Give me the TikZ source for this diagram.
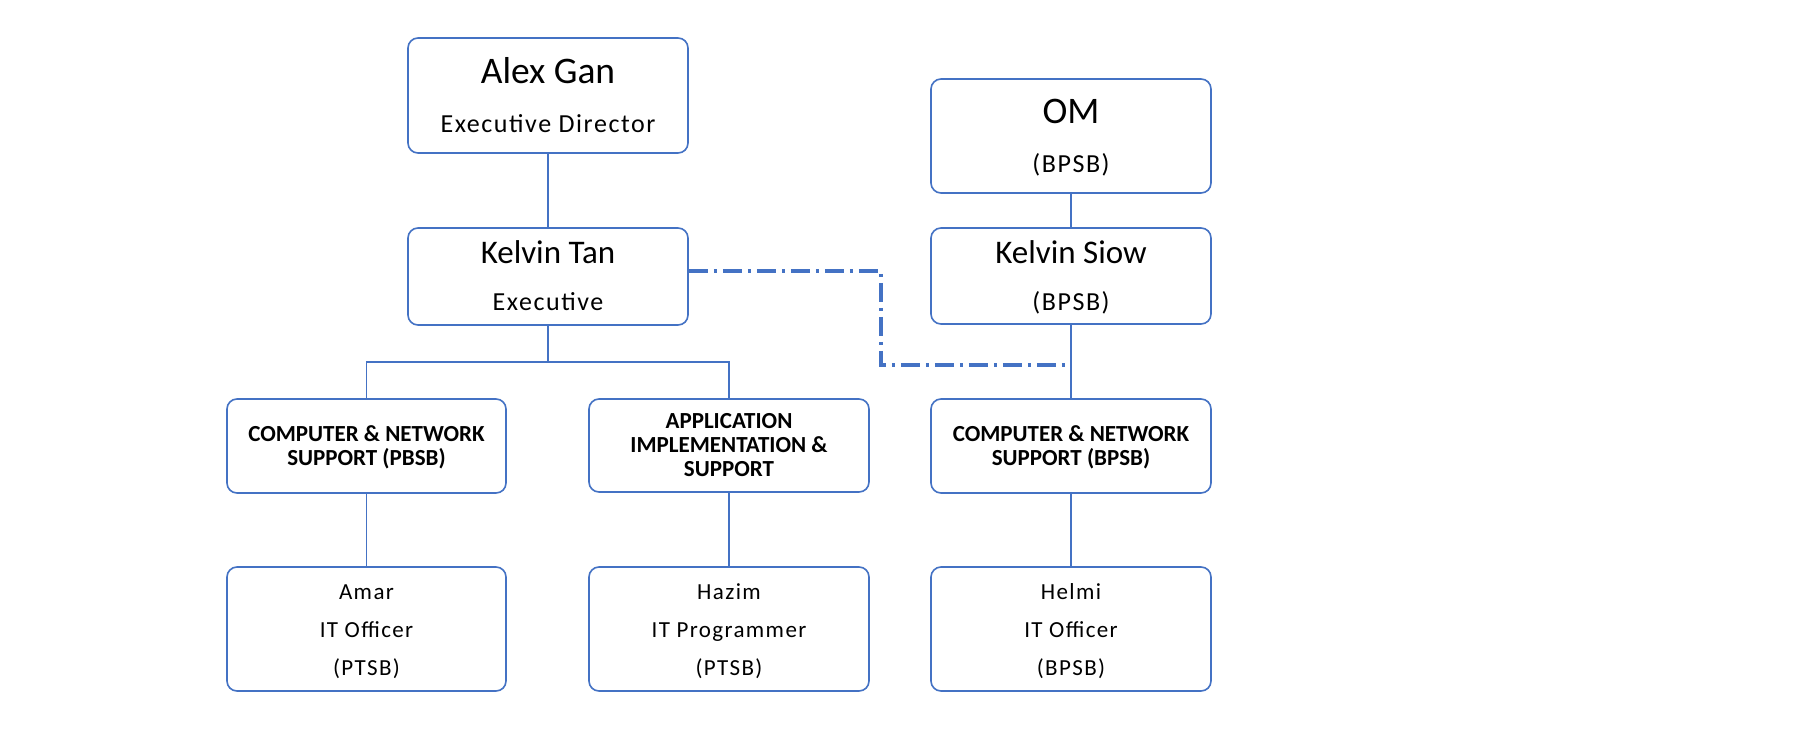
\documentclass[tikz,border=0pt]{standalone}
\usepackage{fontspec}
\setmainfont{Carlito}
\newfontfamily\regf[LetterSpace=6]{Carlito}
\begin{document}
\begin{tikzpicture}[x=1pt,y=-1pt,
  box/.style={draw=boxblue, line width=1.6pt, rounded corners=10pt, fill=white, inner sep=0pt, minimum width=#1},
  box/.default=280pt,
  big/.style={inner sep=0pt, anchor=base, font=\fontsize{37.5}{40}\selectfont},
  mid/.style={inner sep=0pt, anchor=base, font=\fontsize{33}{35}\selectfont},
  regtop/.style={inner sep=0pt, anchor=base, font=\regf\fontsize{26}{28}\selectfont},
  reg/.style={inner sep=0pt, anchor=base, font=\regf\fontsize{23}{25}\selectfont},
  bld/.style={inner sep=0pt, anchor=base, align=center, font=\bfseries\fontsize{23}{24}\selectfont},
  link/.style={draw=boxblue, line width=1.5pt},
  dotlink/.style={draw=boxblue, line width=3.2pt, dash pattern=on 19pt off 6pt on 3pt off 6pt}]
\definecolor{boxblue}{HTML}{4472C4}
\useasboundingbox (0,0) rectangle (1794,731);
\fill[white] (0,0) rectangle (1794,731);
% boxes
\node[box, minimum height=115pt] (alex) at (548,95.5) {};
\node[box, minimum height=114pt] (om) at (1071,136) {};
\node[box, minimum height=97pt] (ktan) at (548,276.5) {};
\node[box, minimum height=96pt] (ksiow) at (1071,276) {};
\node[box=279pt, minimum height=94pt] (cns1) at (366.5,446) {};
\node[box, minimum height=93pt] (app) at (729,445.5) {};
\node[box, minimum height=94pt] (cns2) at (1071,446) {};
\node[box=279pt, minimum height=124pt] (amar) at (366.5,629) {};
\node[box, minimum height=124pt] (hazim) at (729,629) {};
\node[box, minimum height=124pt] (helmi) at (1071,629) {};
% texts
\node[big] (t1) at (548,83) {Alex Gan};
\node[regtop] (t2) at (548,132) {Executive Director};
\node[big] (t3) at (1071,123) {OM};
\node[regtop] (t4) at (1071,172) {(BPSB)};
\node[mid] (t5) at (548,263) {Kelvin Tan};
\node[regtop] (t6) at (548,310) {Executive};
\node[mid] (t7) at (1071,263) {Kelvin Siow};
\node[regtop] (t8) at (1071,310) {(BPSB)};
\node[bld] (t9) at (366.5,441) {COMPUTER \& NETWORK};
\node[bld] (t10) at (366.5,465) {SUPPORT (PBSB)};
\node[bld] (t11) at (729,428) {APPLICATION};
\node[bld] (t12) at (729,452.5) {IMPLEMENTATION \&};
\node[bld] (t13) at (729,476.5) {SUPPORT};
\node[bld] (t14) at (1071,441) {COMPUTER \& NETWORK};
\node[bld] (t15) at (1071,465) {SUPPORT (BPSB)};
\node[reg] (t16) at (366.5,599) {Amar};
\node[reg] (t17) at (366.5,637) {IT Officer};
\node[reg] (t18) at (366.5,675) {(PTSB)};
\node[reg] (t19) at (729,599) {Hazim};
\node[reg] (t20) at (729,637) {IT Programmer};
\node[reg] (t21) at (729,675) {(PTSB)};
\node[reg] (t22) at (1071,599) {Helmi};
\node[reg] (t23) at (1071,637) {IT Officer};
\node[reg] (t24) at (1071,675) {(BPSB)};
% connectors
\coordinate (bus) at (548,362);
\coordinate (d1) at (881,271);
\coordinate (d2) at (881,365);
\draw[link] (alex) -- (ktan);
\draw[link] (om) -- (ksiow);
\draw[link] (ktan) -- (bus);
\draw[link] (cns1.north) |- (bus) -| (app.north);
\draw[link] (ksiow) -- (cns2);
\draw[link] (cns1) -- (amar);
\draw[link] (app) -- (hazim);
\draw[link] (cns2) -- (helmi);
\draw[dotlink] (ktan.east |- d1) -- (d1) -- (d2) -- (ksiow.south |- d2);
\end{tikzpicture}
\end{document}
